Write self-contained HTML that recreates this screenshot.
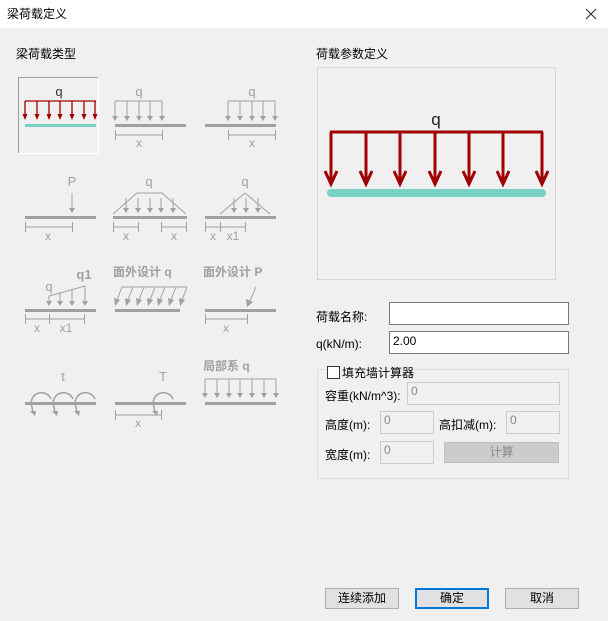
<!DOCTYPE html>
<html><head><meta charset="utf-8"><style>
html,body{margin:0;padding:0;width:608px;height:621px;overflow:hidden;background:#f0f0f0;font-family:"Liberation Sans","Noto Sans CJK SC",sans-serif;}
.t{position:absolute;font-size:12px;color:#000;white-space:nowrap;}
.in{position:absolute;background:#fff;border:1px solid #7a7a7a;box-sizing:border-box;font-size:12px;padding:2px 3px;}
.dis{position:absolute;background:#f0f0f0;border:1px solid #ccc;box-sizing:border-box;font-size:12px;color:#888;padding:1px 3px;}
.btn{position:absolute;background:#e1e1e1;border:1px solid #adadad;box-sizing:border-box;font-size:12px;text-align:center;line-height:18px;}
</style></head><body>
<div style="position:absolute;left:0;top:0;width:608px;height:28px;background:#fff"></div>
<div class="t" style="left:7px;top:5px;font-size:12px">梁荷载定义</div>
<svg style="position:absolute;left:585px;top:8px" width="12" height="12"><path d="M1,1L11,11M11,1L1,11" stroke="#222" stroke-width="1"/></svg>
<div class="t" style="left:16px;top:45px">梁荷载类型</div>
<div class="t" style="left:316px;top:45px">荷载参数定义</div>

<svg style="position:absolute;left:0;top:0" width="608" height="621" xmlns="http://www.w3.org/2000/svg" font-family="Liberation Sans, Noto Sans CJK SC, sans-serif">
<!-- cell1 -->
<rect x="18.5" y="77.5" width="80" height="76" fill="none" stroke="#a0a0a0"/>
<line x1="98.5" y1="77" x2="98.5" y2="154" stroke="#fff"/><line x1="18" y1="153.5" x2="99" y2="153.5" stroke="#fff"/>
<text x="59" y="96" font-size="13" text-anchor="middle" fill="#333">q</text>
<g stroke="#a00000" fill="#a00000" stroke-width="1.3">
<line x1="25" y1="101" x2="96" y2="101"/>
<g id="ra"><line x1="25" y1="101" x2="25" y2="116"/><path d="M22.5,114 L27.5,114 L25,120Z" stroke="none"/></g>
<use href="#ra" x="12"/><use href="#ra" x="24"/><use href="#ra" x="35"/><use href="#ra" x="47"/><use href="#ra" x="59"/><use href="#ra" x="70"/>
</g>
<rect x="25" y="124" width="71" height="3" fill="#78d2c3"/>

<g stroke="#a0a0a0" fill="#a0a0a0" stroke-width="1">
<text x="139" y="96" font-size="13" text-anchor="middle" stroke="none">q</text>
<line x1="115" y1="101" x2="162" y2="101"/>
<g id="ga"><line x1="115" y1="101" x2="115" y2="116"/><path d="M112,116 L118,116 L115,121Z" stroke="none"/></g>
<use href="#ga" x="12"/><use href="#ga" x="24"/><use href="#ga" x="35"/><use href="#ga" x="47"/>
<rect x="115" y="124" width="71" height="3" stroke="none"/>
<path d="M115.5,130V140M115.5,135H162.5M162.5,130V140" fill="none"/>
<text x="139" y="147" font-size="12" text-anchor="middle" stroke="none">x</text>
<text x="252" y="96" font-size="13" text-anchor="middle" stroke="none">q</text>
<line x1="228" y1="101" x2="275" y2="101"/>
<use href="#ga" x="113"/><use href="#ga" x="125"/><use href="#ga" x="137"/><use href="#ga" x="148"/><use href="#ga" x="160"/>
<rect x="205" y="124" width="71" height="3" stroke="none"/>
<path d="M228.5,130V140M228.5,135H275.5M275.5,130V140" fill="none"/>
<text x="252" y="147" font-size="12" text-anchor="middle" stroke="none">x</text>
<text x="72" y="186" font-size="13" text-anchor="middle" stroke="none">P</text>
<line x1="72" y1="193" x2="72" y2="208"/><path d="M69,208 L75,208 L72,213Z" stroke="none"/>
<rect x="25" y="216" width="71" height="3" stroke="none"/>
<path d="M25.5,222V232M25.5,227H72.5M72.5,222V232" fill="none"/>
<text x="48" y="240" font-size="12" text-anchor="middle" stroke="none">x</text>
<text x="149" y="186" font-size="13" text-anchor="middle" stroke="none">q</text>
<path d="M113,214 L137,193 L162,193 L186,214" fill="none"/>
<g id="gb"><line x1="126" y1="198" x2="126" y2="208"/><path d="M123,208 L129,208 L126,213Z" stroke="none"/></g>
<use href="#gb" x="12"/><use href="#gb" x="24"/><use href="#gb" x="35"/><use href="#gb" x="47"/>
<rect x="113" y="216" width="74" height="3" stroke="none"/>
<path d="M113.5,222V232M113.5,227H138.5M138.5,222V232M161.5,222V232M161.5,227H186.5M186.5,222V232" fill="none"/>
<text x="126" y="240" font-size="12" text-anchor="middle" stroke="none">x</text>
<text x="174" y="240" font-size="12" text-anchor="middle" stroke="none">x</text>
<text x="245" y="186" font-size="13" text-anchor="middle" stroke="none">q</text>
<path d="M220,214 L245,193 L270,214" fill="none"/>
<use href="#gb" x="108"/><use href="#gb" x="120"/><use href="#gb" x="132"/>
<rect x="205" y="216" width="71" height="3" stroke="none"/>
<path d="M205.5,222V232M205.5,227H245.5M220.5,222V232M245.5,222V232" fill="none"/>
<text x="213" y="240" font-size="12" text-anchor="middle" stroke="none">x</text>
<text x="233" y="240" font-size="12" text-anchor="middle" stroke="none">x1</text>
<text x="49" y="291" font-size="13" text-anchor="middle" stroke="none">q</text>
<text x="84" y="279" font-size="13" text-anchor="middle" stroke="none" font-weight="bold">q1</text>
<path d="M49,301 L49,296 L85,286 L85,301" fill="none"/>
<path d="M46,301 L52,301 L49,306Z M57,301 L63,301 L60,306Z M69,301 L75,301 L72,306Z M82,301 L88,301 L85,306Z" stroke="none"/>
<line x1="60" y1="293" x2="60" y2="301"/><line x1="72" y1="290" x2="72" y2="301"/>
<rect x="25" y="309" width="71" height="3" stroke="none"/>
<path d="M25.5,314V324M25.5,319H84.5M49.5,314V324M84.5,314V324" fill="none"/>
<text x="37" y="332" font-size="12" text-anchor="middle" stroke="none">x</text>
<text x="66" y="332" font-size="12" text-anchor="middle" stroke="none">x1</text>
<text x="113" y="276" font-size="12" stroke="none" font-weight="bold">面外设计 q</text>
<line x1="122" y1="287" x2="187" y2="287"/>
<g id="sa"><line x1="122" y1="287" x2="117" y2="300"/><path d="M114,298 L120,300 L115,306Z" stroke="none"/></g>
<use href="#sa" x="11"/><use href="#sa" x="22"/><use href="#sa" x="33"/><use href="#sa" x="43"/><use href="#sa" x="54"/><use href="#sa" x="65"/>
<rect x="115" y="309" width="65" height="3" stroke="none"/>
<text x="203" y="276" font-size="12" stroke="none" font-weight="bold">面外设计 P</text>
<line x1="256" y1="287" x2="250" y2="301"/><path d="M246,299 L253,302 L247,307Z" stroke="none"/>
<rect x="205" y="309" width="71" height="3" stroke="none"/>
<path d="M205.5,314V324M205.5,319H247.5M247.5,314V324" fill="none"/>
<text x="226" y="332" font-size="12" text-anchor="middle" stroke="none">x</text>
<text x="63" y="381" font-size="13" text-anchor="middle" stroke="none">t</text>
<rect x="25" y="402" width="71" height="3" stroke="none"/>
<g fill="none" stroke-width="1.5">
<path d="M51,399 A10,10 0 1 0 32,407 L33,413"/>
<path d="M73,399 A10,10 0 1 0 54,407 L55,413"/>
<path d="M95,399 A10,10 0 1 0 76,407 L77,413"/>
<path d="M173,399 A10,10 0 1 0 154,407 L155,413"/>
</g>
<path d="M30,411 L36,411 L35,416Z M52,411 L58,411 L57,416Z M74,411 L80,411 L79,416Z M152,411 L158,411 L157,416Z" stroke="none"/>
<text x="163" y="381" font-size="13" text-anchor="middle" stroke="none">T</text>
<rect x="115" y="402" width="71" height="3" stroke="none"/>
<path d="M115.5,410V420M115.5,415H161.5M161.5,410V420" fill="none"/>
<text x="138" y="427" font-size="12" text-anchor="middle" stroke="none">x</text>
<text x="203" y="370" font-size="12" stroke="none" font-weight="bold">局部系 q</text>
<line x1="205" y1="379" x2="276" y2="379"/>
<g id="gc"><line x1="205" y1="379" x2="205" y2="393"/><path d="M202,393 L208,393 L205,398Z" stroke="none"/></g>
<use href="#gc" x="12"/><use href="#gc" x="24"/><use href="#gc" x="35"/><use href="#gc" x="47"/><use href="#gc" x="59"/><use href="#gc" x="71"/>
<rect x="205" y="402" width="71" height="3" stroke="none"/>
</g>

<rect x="317.5" y="67.5" width="238" height="212" fill="#f0f0f0" stroke="#d6d6d6"/>
<text x="436" y="125" font-size="17" text-anchor="middle" fill="#222">q</text>
<g stroke="#a00000" stroke-width="3" fill="none">
<line x1="330" y1="132" x2="543" y2="132"/>
<g id="ba"><line x1="331" y1="132" x2="331" y2="183"/><path d="M325,171 L331,184 L337,171"/></g>
<use href="#ba" x="35"/><use href="#ba" x="69"/><use href="#ba" x="104"/><use href="#ba" x="138"/><use href="#ba" x="172"/><use href="#ba" x="211"/>
</g>
<rect x="327" y="189" width="219" height="8" rx="4" fill="#78d2c3"/>
<rect x="317.5" y="369.5" width="251" height="109" fill="none" stroke="#dcdcdc"/>
<rect x="325" y="364" width="90" height="12" fill="#f0f0f0"/>
<rect x="327.5" y="366.5" width="12" height="12" fill="#fff" stroke="#333"/>
</svg>

<div class="t" style="left:316px;top:308px">荷载名称:</div>
<div class="in" style="left:389px;top:302px;width:180px;height:23px"></div>
<div class="t" style="left:316px;top:337px">q(kN/m):</div>
<div class="in" style="left:389px;top:331px;width:180px;height:23px">2.00</div>
<div class="t" style="left:342px;top:364px">填充墙计算器</div>
<div class="t" style="left:325px;top:387px">容重(kN/m^3):</div>
<div class="dis" style="left:407px;top:382px;width:153px;height:23px">0</div>
<div class="t" style="left:325px;top:416px">高度(m):</div>
<div class="dis" style="left:380px;top:411px;width:54px;height:23px">0</div>
<div class="t" style="left:439px;top:416px">高扣减(m):</div>
<div class="dis" style="left:506px;top:411px;width:54px;height:23px">0</div>
<div class="t" style="left:325px;top:446px">宽度(m):</div>
<div class="dis" style="left:380px;top:441px;width:54px;height:23px">0</div>
<div class="btn" style="left:444px;top:442px;width:115px;height:21px;background:#cccccc;border-color:#bfbfbf;color:#888">计算</div>
<div class="btn" style="left:325px;top:588px;width:74px;height:21px">连续添加</div>
<div class="btn" style="left:415px;top:588px;width:74px;height:21px;border:2px solid #0078d7;line-height:17px">确定</div>
<div class="btn" style="left:505px;top:588px;width:74px;height:21px">取消</div>
</body></html>
